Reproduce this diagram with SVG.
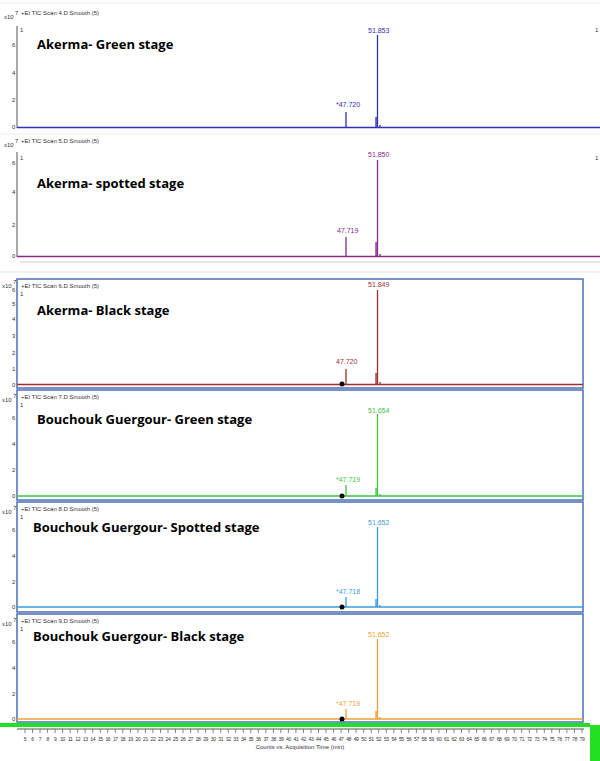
<svg xmlns="http://www.w3.org/2000/svg" width="600" height="761" viewBox="0 0 600 761">
<style>
.sm{font-family:"Liberation Sans",Arial,sans-serif;font-size:6px;fill:#333}
.pk{font-family:"Liberation Sans",Arial,sans-serif;font-size:7px}
.tt{font-family:"Open Sans","Liberation Sans",sans-serif;font-size:13px;font-weight:bold;fill:#000}
.ax{stroke:#555;stroke-width:1;fill:none}
.box{stroke:#4a6fb5;stroke-width:1.5;fill:none}
.tk{font-family:"Liberation Sans",Arial,sans-serif;font-size:5px;fill:#333;letter-spacing:-0.4px}
</style>
<rect width="600" height="761" fill="#fff"/>
<line x1="0" y1="3" x2="600" y2="3" stroke="#eee"/>
<g id="p1">
<text class="sm" x="4" y="19">x10</text><text class="sm" x="15" y="15" font-size="5">7</text>
<text class="sm" x="21" y="15">+EI TIC Scan 4.D  Smooth (5)</text>
<line class="ax" x1="17" y1="26" x2="17" y2="128"/>
<text class="sm" x="12" y="47">6</text><text class="sm" x="12" y="75">4</text><text class="sm" x="12" y="102">2</text><text class="sm" x="12" y="129">0</text>
<text class="sm" x="20" y="32">1</text><text class="sm" x="595" y="32">1</text>
<text class="tt" x="37" y="49">Akerma- Green stage</text>
<line x1="17" y1="127.5" x2="600" y2="127.5" stroke="#3030b8" stroke-width="1.5"/>
<path d="M346 127 V112 M377.5 127 V35 M376 127 V117 M380 127 V125" stroke="#3030b8" stroke-width="1.3"/>
<text class="pk" x="336" y="107" fill="#3030b8">*47.720</text>
<text class="pk" x="368" y="33" fill="#3030b8">51.853</text>
</g>
<g id="p2">
<line x1="0" y1="134" x2="600" y2="134" stroke="#eee"/>
<text class="sm" x="4" y="147">x10</text><text class="sm" x="15" y="143" font-size="5">7</text>
<text class="sm" x="21" y="143">+EI TIC Scan 5.D  Smooth (5)</text>
<line class="ax" x1="17" y1="152" x2="17" y2="257"/>
<text class="sm" x="12" y="165">6</text><text class="sm" x="12" y="194">4</text><text class="sm" x="12" y="227">2</text><text class="sm" x="12" y="258">0</text>
<text class="sm" x="20" y="160">1</text><text class="sm" x="595" y="160">1</text>
<text class="tt" x="37" y="188">Akerma- spotted stage</text>
<line x1="17" y1="256.5" x2="600" y2="256.5" stroke="#8a2a8a" stroke-width="1.5"/>
<path d="M346 256 V237 M377.5 256 V160 M376 256 V242 M380 256 V254" stroke="#8a2a8a" stroke-width="1.3"/>
<text class="pk" x="337" y="233" fill="#8a2a8a">47.719</text>
<text class="pk" x="368" y="157" fill="#8a2a8a">51.850</text>
<line x1="20" y1="262" x2="600" y2="262" stroke="#ccc"/>
<line x1="0" y1="272" x2="600" y2="272" stroke="#d8f0d8"/>
</g>
<g id="p3">
<rect class="box" x="17" y="279" width="566" height="109"/>
<text class="sm" x="2" y="288">x10</text><text class="sm" x="13" y="284" font-size="5">7</text>
<text class="sm" x="21" y="288">+EI TIC Scan 6.D  Smooth (5)</text>
<text class="sm" x="12" y="292">6</text><text class="sm" x="12" y="306">5</text><text class="sm" x="12" y="321">4</text><text class="sm" x="12" y="338">3</text><text class="sm" x="12" y="355">2</text><text class="sm" x="12" y="371">1</text><text class="sm" x="12" y="387">0</text>
<text class="sm" x="20" y="296">1</text>
<text class="tt" x="37" y="315">Akerma- Black stage</text>
<line x1="17" y1="384.5" x2="583" y2="384.5" stroke="#a03030" stroke-width="1.5"/>
<path d="M346 384 V369 M377.5 384 V290 M376 384 V373 M380 384 V382" stroke="#a03030" stroke-width="1.3"/>
<circle cx="342" cy="384" r="2.5" fill="#000"/>
<text class="pk" x="336" y="364" fill="#a03030">47.720</text>
<text class="pk" x="368" y="287" fill="#a03030">51.849</text>
</g>
<g id="p4">
<rect class="box" x="17" y="390" width="566" height="110"/>
<text class="sm" x="2" y="402">x10</text><text class="sm" x="13" y="398" font-size="5">7</text>
<text class="sm" x="21" y="399">+EI TIC Scan 7.D  Smooth (5)</text>
<text class="sm" x="12" y="420">6</text><text class="sm" x="12" y="446">4</text><text class="sm" x="12" y="472">2</text><text class="sm" x="12" y="498">0</text>
<text class="sm" x="20" y="407">1</text>
<text class="tt" x="37" y="424">Bouchouk Guergour- Green stage</text>
<line x1="17" y1="496" x2="583" y2="496" stroke="#3ec43e" stroke-width="1.5"/>
<path d="M346 496 V485 M377.5 496 V414 M376 496 V488 M380 496 V494" stroke="#3ec43e" stroke-width="1.3"/>
<circle cx="342" cy="496" r="2.5" fill="#000"/>
<text class="pk" x="336" y="482" fill="#3ec43e">*47.719</text>
<text class="pk" x="368" y="413" fill="#3ec43e">51.654</text>
</g>
<g id="p5">
<rect class="box" x="17" y="502" width="566" height="110"/>
<text class="sm" x="2" y="514">x10</text><text class="sm" x="13" y="510" font-size="5">7</text>
<text class="sm" x="21" y="511">+EI TIC Scan 8.D  Smooth (5)</text>
<text class="sm" x="12" y="532">6</text><text class="sm" x="12" y="558">4</text><text class="sm" x="12" y="584">2</text><text class="sm" x="12" y="609">0</text>
<text class="sm" x="20" y="519">1</text>
<text class="tt" x="33" y="532">Bouchouk Guergour- Spotted stage</text>
<line x1="17" y1="607" x2="583" y2="607" stroke="#3a9ae0" stroke-width="1.5"/>
<path d="M346 607 V597 M377.5 607 V527 M376 607 V599 M380 607 V605" stroke="#3a9ae0" stroke-width="1.3"/>
<circle cx="342" cy="607" r="2.5" fill="#000"/>
<text class="pk" x="336" y="594" fill="#3a9ae0">*47.718</text>
<text class="pk" x="368" y="525" fill="#3a9ae0">51.652</text>
</g>
<g id="p6">
<rect class="box" x="17" y="614" width="566" height="108"/>
<text class="sm" x="2" y="626">x10</text><text class="sm" x="13" y="622" font-size="5">7</text>
<text class="sm" x="21" y="623">+EI TIC Scan 9.D  Smooth (5)</text>
<text class="sm" x="12" y="644">6</text><text class="sm" x="12" y="670">4</text><text class="sm" x="12" y="696">2</text><text class="sm" x="12" y="721">0</text>
<text class="sm" x="20" y="631">1</text>
<text class="tt" x="33" y="641">Bouchouk Guergour- Black stage</text>
<line x1="17" y1="719" x2="583" y2="719" stroke="#f0a030" stroke-width="1.5"/>
<path d="M346 719 V709 M377.5 719 V639 M376 719 V711 M380 719 V717" stroke="#f0a030" stroke-width="1.3"/>
<circle cx="342" cy="719" r="2.5" fill="#000"/>
<text class="pk" x="336" y="706" fill="#f0a030">*47.719</text>
<text class="pk" x="368" y="637" fill="#f0a030">51.652</text>
</g>
<g id="xaxis">
<rect x="0" y="723" width="590" height="4" fill="#22e022"/>
<rect x="590" y="725" width="10" height="36" fill="#22e022"/>
<line class="ax" x1="17" y1="729" x2="584" y2="729"/>
<path stroke="#555" stroke-width="0.7" d="M25 729v4M32.5 729v4M40 729v4M47.6 729v4M55.1 729v4M62.6 729v4M70.2 729v4M77.7 729v4M85.2 729v4M92.7 729v4M100.3 729v4M107.8 729v4M115.3 729v4M122.8 729v4M130.4 729v4M137.9 729v4M145.4 729v4M152.9 729v4M160.5 729v4M168 729v4M175.5 729v4M183 729v4M190.6 729v4M198.1 729v4M205.6 729v4M213.2 729v4M220.7 729v4M228.2 729v4M235.7 729v4M243.3 729v4M250.8 729v4M258.3 729v4M265.8 729v4M273.4 729v4M280.9 729v4M288.4 729v4M295.9 729v4M303.5 729v4M311 729v4M318.5 729v4M326 729v4M333.6 729v4M341.1 729v4M348.6 729v4M356.1 729v4M363.7 729v4M371.2 729v4M378.7 729v4M386.3 729v4M393.8 729v4M401.3 729v4M408.8 729v4M416.4 729v4M423.9 729v4M431.4 729v4M438.9 729v4M446.5 729v4M454 729v4M461.5 729v4M469 729v4M476.6 729v4M484.1 729v4M491.6 729v4M499.1 729v4M506.7 729v4M514.2 729v4M521.7 729v4M529.3 729v4M536.8 729v4M544.3 729v4M551.8 729v4M559.4 729v4M566.9 729v4M574.4 729v4M582 729v4"/>
<text class="tk" y="741" text-anchor="middle"><tspan x="25">5</tspan><tspan x="32.5">6</tspan><tspan x="40">7</tspan><tspan x="47.6">8</tspan><tspan x="55.1">9</tspan><tspan x="62.6">10</tspan><tspan x="70.2">11</tspan><tspan x="77.7">12</tspan><tspan x="85.2">13</tspan><tspan x="92.7">14</tspan><tspan x="100.3">15</tspan><tspan x="107.8">16</tspan><tspan x="115.3">17</tspan><tspan x="122.8">18</tspan><tspan x="130.4">19</tspan><tspan x="137.9">20</tspan><tspan x="145.4">21</tspan><tspan x="152.9">22</tspan><tspan x="160.5">23</tspan><tspan x="168">24</tspan><tspan x="175.5">25</tspan><tspan x="183">26</tspan><tspan x="190.6">27</tspan><tspan x="198.1">28</tspan><tspan x="205.6">29</tspan><tspan x="213.2">30</tspan><tspan x="220.7">31</tspan><tspan x="228.2">32</tspan><tspan x="235.7">33</tspan><tspan x="243.3">34</tspan><tspan x="250.8">35</tspan><tspan x="258.3">36</tspan><tspan x="265.8">37</tspan><tspan x="273.4">38</tspan><tspan x="280.9">39</tspan><tspan x="288.4">40</tspan><tspan x="295.9">41</tspan><tspan x="303.5">42</tspan><tspan x="311">43</tspan><tspan x="318.5">44</tspan><tspan x="326">45</tspan><tspan x="333.6">46</tspan><tspan x="341.1">47</tspan><tspan x="348.6">48</tspan><tspan x="356.1">49</tspan><tspan x="363.7">50</tspan><tspan x="371.2">51</tspan><tspan x="378.7">52</tspan><tspan x="386.3">53</tspan><tspan x="393.8">54</tspan><tspan x="401.3">55</tspan><tspan x="408.8">56</tspan><tspan x="416.4">57</tspan><tspan x="423.9">58</tspan><tspan x="431.4">59</tspan><tspan x="438.9">60</tspan><tspan x="446.5">61</tspan><tspan x="454">62</tspan><tspan x="461.5">63</tspan><tspan x="469">64</tspan><tspan x="476.6">65</tspan><tspan x="484.1">66</tspan><tspan x="491.6">67</tspan><tspan x="499.1">68</tspan><tspan x="506.7">69</tspan><tspan x="514.2">70</tspan><tspan x="521.7">71</tspan><tspan x="529.3">72</tspan><tspan x="536.8">73</tspan><tspan x="544.3">74</tspan><tspan x="551.8">75</tspan><tspan x="559.4">76</tspan><tspan x="566.9">77</tspan><tspan x="574.4">78</tspan><tspan x="582">79</tspan></text>
<text class="sm" x="300" y="749" text-anchor="middle">Counts vs. Acquisition Time (min)</text>
</g>
</svg>
